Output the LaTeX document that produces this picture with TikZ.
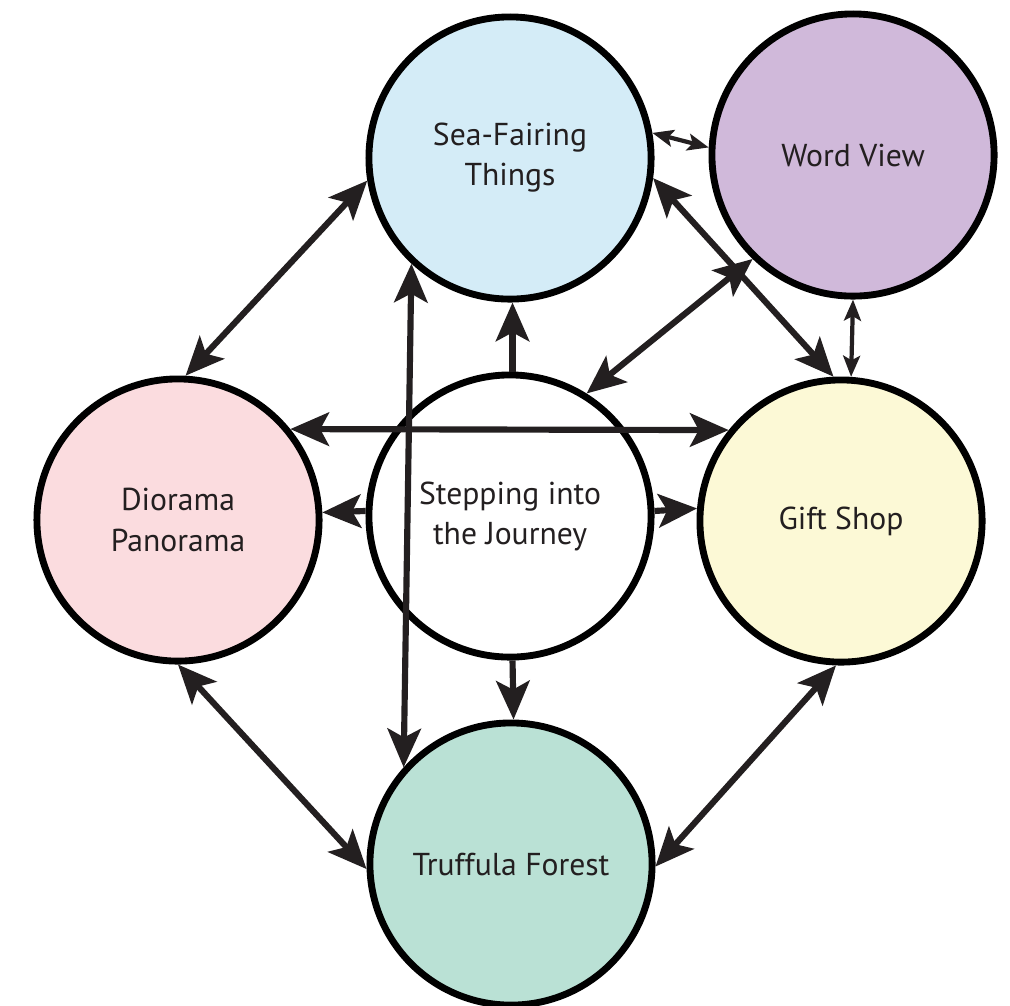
\documentclass[tikz,border=0pt]{standalone}
\usepackage{fontspec}
\setmainfont{PT Sans}
\usetikzlibrary{arrows.meta}
\definecolor{ink}{HTML}{231F20}
\definecolor{seac}{HTML}{D4ECF7}
\definecolor{wordc}{HTML}{D0B9DA}
\definecolor{dioc}{HTML}{FBDCDF}
\definecolor{giftc}{HTML}{FCF9D6}
\definecolor{truc}{HTML}{BAE1D5}
\begin{document}
\begin{tikzpicture}[x=0.01cm,y=-0.01cm,
  hub/.style={circle, draw=black, line width=1.95pt, minimum size=2.82cm, inner sep=0pt, align=center, text=ink, font=\fontsize{9}{11.4}\selectfont},
  link/.style={draw=ink, line width=1.75pt, {Stealth[length=11pt,width=9.5pt,inset=2.5pt]}-{Stealth[length=11pt,width=9.5pt,inset=2.5pt]}},
  one/.style={draw=ink, line width=1.75pt, -{Stealth[length=11pt,width=9.5pt,inset=2.5pt]}},
  thinlink/.style={draw=ink, line width=1.2pt, {Stealth[length=6pt,width=4.8pt,inset=1.3pt]}-{Stealth[length=6pt,width=4.8pt,inset=1.3pt]}}
]
\useasboundingbox (0,0) rectangle (1010,1005);
\node[hub, fill=seac] (sea) at (510,158) {Sea-Fairing\\Things};
\node[hub, fill=wordc] (word) at (853,155) {Word View};
\node[hub, fill=dioc] (dio) at (178,520) {Diorama\\Panorama};
\node[hub, fill=white] (step) at (510,516) {Stepping into\\the Journey};
\node[hub, fill=giftc] (gift) at (841,521) {Gift Shop};
\node[hub, fill=truc] (tru) at (511,864) {Truffula Forest};

\draw[thinlink] (sea.10) -- (word.177);
\draw[thinlink] (word.270) -- (gift.86);
\draw[link] (sea.189) -- (dio.87);
\draw[link] (sea.352) -- (gift.93);
\draw[link] (word.226) -- (step.58);
\draw[link] (dio.39) -- (gift.141);
\draw[link] (sea.227) -- (tru.138);
\draw[link] (dio.270) -- (tru.182);
\draw[link] (gift.268) -- (tru.359);
\draw[one] (step.89) -- (sea.271);
\draw[one] (step.178) -- (dio.3);
\draw[one] (step.2) -- (gift.175);
\draw[one] (step.271) -- (tru.89);
\end{tikzpicture}
\end{document}
